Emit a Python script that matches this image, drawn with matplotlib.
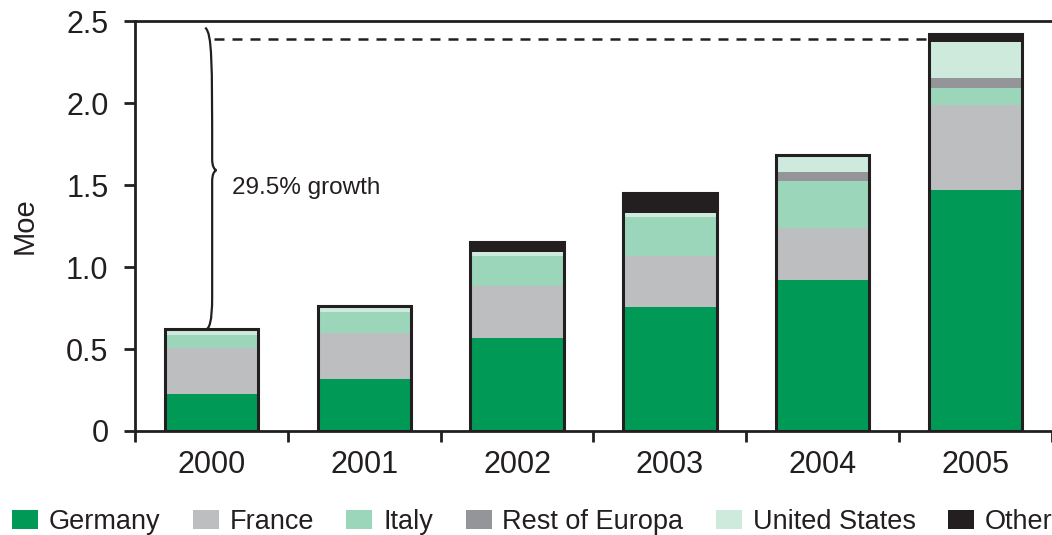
import matplotlib
matplotlib.use("Agg")
import matplotlib.pyplot as plt
from matplotlib.patches import Patch
from matplotlib.path import Path
from matplotlib.patches import PathPatch
import numpy as np

plt.rcParams['font.family'] = ['Liberation Sans', 'DejaVu Sans']

years = ["2000", "2001", "2002", "2003", "2004", "2005"]
series_names = ["Germany", "France", "Italy", "Rest of Europa", "United States", "Other"]
germany = [0.226, 0.317, 0.567, 0.756, 0.921, 1.470]
france = [0.280, 0.281, 0.317, 0.313, 0.317, 0.518]
italy = [0.079, 0.128, 0.183, 0.236, 0.286, 0.103]
rest_of_europa = [0.000, 0.000, 0.000, 0.000, 0.055, 0.061]
united_states = [0.035, 0.036, 0.026, 0.024, 0.104, 0.220]
other = [0.000, 0.000, 0.059, 0.120, 0.000, 0.049]
colors = ["#009a56", "#bcbec0", "#9bd6bb", "#939598", "#cdeadd", "#231f20"]
growth_label = "29.5% growth"
dash_level = 2.39

dark = "#231f20"
fig = plt.figure(figsize=(10.52, 5.35), dpi=100)
ax = fig.add_axes([0.1283, 0.1944, 0.8717, 0.7663])

x = np.arange(len(years))
width = 0.61
data = [germany, france, italy, rest_of_europa, united_states, other]
bottom = np.zeros(len(years))
for vals, c in zip(data, colors):
    v = np.array(vals)
    ax.bar(x, v, width, bottom=bottom, color=c, edgecolor='none', linewidth=0, zorder=2)
    bottom += v
ax.bar(x, bottom, width, fill=False, edgecolor=dark, linewidth=2.2, zorder=3)

ax.set_xlim(-0.5, 5.5)
ax.set_ylim(0, 2.5)
ax.set_yticks([0, 0.5, 1.0, 1.5, 2.0, 2.5])
ax.set_yticklabels(["0", "0.5", "1.0", "1.5", "2.0", "2.5"], fontsize=22, color=dark)
ax.set_xticks(np.arange(-0.5, 6.0, 1.0))
ax.set_xticklabels([])
ax.set_xticks(x, minor=True)
ax.set_xticklabels(years, minor=True, fontsize=22, color=dark)
ax.tick_params(axis='x', which='minor', length=0, pad=14)
ax.tick_params(axis='x', which='major', length=8, width=2, color=dark, direction='out')
ax.tick_params(axis='y', length=8, width=2, color=dark, direction='out', pad=11)
for s in ['left', 'bottom', 'top']:
    ax.spines[s].set_linewidth(2)
    ax.spines[s].set_color(dark)
ax.spines['right'].set_visible(False)
ax.set_ylabel("Moe", fontsize=21, color=dark, labelpad=20)

# dashed reference line
ax.plot([0.02, 4.69], [dash_level, dash_level], color=dark, lw=1.8, ls=(0, (4, 3.2)), zorder=4)

# curly brace
top_y = 2.46
bot_y = bottom[0]
mid_y = 1.59
bx = 0.005
verts = [
    (bx - 0.045, top_y), (bx, top_y - 0.04), (bx, top_y - 0.2),
    (bx, mid_y + 0.07),
    (bx, mid_y + 0.02), (bx + 0.015, mid_y + 0.005), (bx + 0.028, mid_y),
    (bx + 0.015, mid_y - 0.005), (bx, mid_y - 0.02), (bx, mid_y - 0.07),
    (bx, bot_y + 0.2),
    (bx, bot_y + 0.04), (bx - 0.02, bot_y + 0.005), (bx - 0.04, bot_y),
]
codes = [Path.MOVETO, Path.CURVE4, Path.CURVE4, Path.LINETO,
         Path.CURVE4, Path.CURVE4, Path.CURVE4,
         Path.CURVE4, Path.CURVE4, Path.CURVE4, Path.LINETO,
         Path.CURVE4, Path.CURVE4, Path.CURVE4]
ax.add_patch(PathPatch(Path(verts, codes), fill=False, edgecolor=dark, lw=1.6, zorder=4))
ax.text(0.134, 1.48, growth_label, fontsize=17.5, color=dark, va='center', ha='left')

handles = [Patch(facecolor=c, edgecolor='none') for c in colors]
fig.legend(handles, series_names, loc='center', bbox_to_anchor=(0.506, 0.024), ncol=6,
           frameon=False, fontsize=19.5, handlelength=0.96, handleheight=0.67,
           handletextpad=0.4, columnspacing=1.2, labelcolor=dark,
           borderpad=0, borderaxespad=0)

fig.savefig("out.png", dpi=100)
